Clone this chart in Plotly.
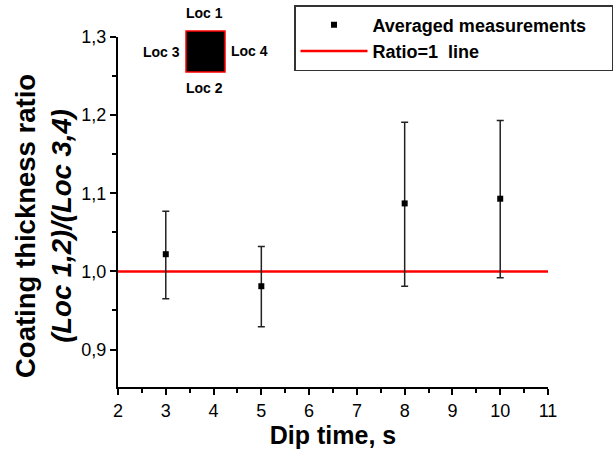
import plotly.graph_objects as go

# Data
dip_time = [3, 5, 8, 10]
ratio_mean = [1.022, 0.981, 1.087, 1.093]
err_upper = [1.077, 1.032, 1.191, 1.193]
err_lower = [0.965, 0.929, 0.981, 0.992]
ref_x = [2, 11]
ref_y = [1.0, 1.0]

err_plus = [u - m for u, m in zip(err_upper, ratio_mean)]
err_minus = [m - l for m, l in zip(ratio_mean, err_lower)]

FONT = "Liberation Sans, Arial, sans-serif"
PAD = "&nbsp;" * 4

fig = go.Figure()
fig.add_trace(go.Scatter(
    x=ref_x, y=ref_y, mode="lines", name="Ratio=1  line",
    line=dict(color="#ff0000", width=2.5), legendrank=2,
))
fig.add_trace(go.Scatter(
    x=dip_time, y=ratio_mean, mode="markers", name="Averaged measurements" + PAD,
    marker=dict(symbol="square", size=6, color="black"),
    error_y=dict(type="data", symmetric=False, array=err_plus, arrayminus=err_minus,
                 color="#222222", thickness=1.5, width=3.5),
    legendrank=1,
))

W, H = 616, 453
L, R, T, B = 118, 68, 37, 66
pw, ph = W - L - R, H - T - B

def px(x):
    return (x - L) / pw

def py(y):
    return (H - B - y) / ph

# inset square
fig.add_shape(type="rect", xref="paper", yref="paper",
              x0=px(186), x1=px(225), y0=py(72), y1=py(31),
              fillcolor="black", line=dict(color="#ff0000", width=1.5))

locs = [("Loc 1", 204, 13), ("Loc 2", 204, 88), ("Loc 3", 161, 52), ("Loc 4", 249, 51)]
for txt, x, y in locs:
    fig.add_annotation(text=f"<b>{txt}</b>", xref="paper", yref="paper",
                       x=px(x), y=py(y), showarrow=False, xanchor="center", yanchor="middle",
                       font=dict(family=FONT, size=14, color="black"))

# y title
fig.add_annotation(text="<b>Coating thickness ratio</b><br><b><i>(Loc 1,2)/(Loc 3,4)</i></b>",
                   xref="paper", yref="paper", x=px(43), y=py(226), textangle=-90,
                   showarrow=False, xanchor="center", yanchor="middle",
                   font=dict(family=FONT, size=27.5, color="black"))

fig.update_layout(
    width=W, height=H,
    margin=dict(l=L, r=R, t=T, b=B, pad=0, autoexpand=False),
    paper_bgcolor="white", plot_bgcolor="white",
    font=dict(family=FONT, color="black"),
    showlegend=True,
    legend=dict(xref="container", yref="container", x=294 / W, y=1 - 5 / H,
                xanchor="left", yanchor="top",
                bordercolor="#333333", borderwidth=1.5, bgcolor="white",
                font=dict(family=FONT, size=18, color="black", weight="bold"),
                traceorder="normal", itemwidth=67),
    xaxis=dict(range=[2, 11], tickmode="linear", tick0=2, dtick=1,
               showgrid=False, zeroline=False, showline=True, linecolor="black", linewidth=2,
               ticks="outside", ticklen=6, tickwidth=1.5, tickcolor="black",
               minor=dict(dtick=0.5, ticks="outside", ticklen=4, tickwidth=1.5, tickcolor="black", showgrid=False),
               tickfont=dict(family=FONT, size=18, color="black"),
               title=dict(text="<b>Dip time, s</b>", font=dict(family=FONT, size=25, color="black"), standoff=3)),
    yaxis=dict(range=[0.852, 1.3], tickmode="array", tickvals=[0.9, 1.0, 1.1, 1.2, 1.3],
               ticktext=["0,9", "1,0", "1,1", "1,2", "1,3"],
               showgrid=False, zeroline=False, showline=True, linecolor="black", linewidth=2,
               ticks="outside", ticklen=6, tickwidth=1.5, tickcolor="black",
               minor=dict(tickvals=[0.85, 0.95, 1.05, 1.15, 1.25], ticks="outside", ticklen=4, tickwidth=1.5,
                          tickcolor="black", showgrid=False),
               tickfont=dict(family=FONT, size=18, color="black")),
)

fig.write_html("out.html")
